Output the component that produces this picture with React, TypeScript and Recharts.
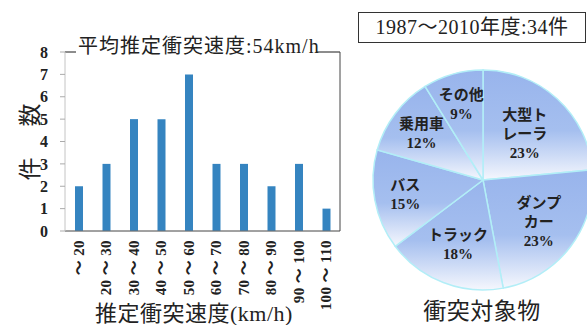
import { BarChart, Bar, XAxis, YAxis, CartesianGrid, ReferenceLine, PieChart, Pie, Cell } from 'recharts'

const FONT = '"Liberation Serif", "Noto Sans CJK JP", serif'

// 推定衝突速度の分布
const speedRanges = ['～ 20', '20 ～ 30', '30 ～ 40', '40 ～ 50', '50 ～ 60', '60 ～ 70', '70 ～ 80', '80 ～ 90', '90 ～ 100', '100 ～ 110']
const counts = [2, 3, 5, 5, 7, 3, 3, 2, 3, 1]
const yTicks = [0, 1, 2, 3, 4, 5, 6, 7, 8]

// 衝突対象物（34件）
const targets = ['大型トレーラ', 'ダンプカー', 'トラック', 'バス', '乗用車', 'その他']
const targetLines = [['大型ト', 'レーラ'], ['ダンプ', 'カー'], ['トラック'], ['バス'], ['乗用車'], ['その他']]
const targetCounts = [8, 8, 6, 5, 4, 3]

const barData = speedRanges.map((range, i) => ({ range, count: counts[i] }))
const pieData = targets.map((name, i) => ({ name, value: targetCounts[i] }))
const total = targetCounts.reduce((a, b) => a + b, 0)

// whole-number shares that add up to 100 (largest remainder)
function roundedShares(values: number[]) {
  const raw = values.map((v) => (v / total) * 100)
  const out = raw.map(Math.floor)
  let left = 100 - out.reduce((a, b) => a + b, 0)
  const order = raw.map((r, i) => [r - Math.floor(r), i]).sort((a, b) => b[0] - a[0])
  for (const [, i] of order) {
    if (left <= 0) break
    out[i] += 1
    left -= 1
  }
  return out
}
const shares = roundedShares(targetCounts)

// label distance from the pie centre, per slice
const labelRadius = [62, 70, 69, 79, 77, 79]
const RAD = Math.PI / 180

function SpeedTick({ x, y, payload }: any) {
  return (
    <g transform={`translate(${x},${y + 7})`}>
      <text
        transform="rotate(-90)"
        textAnchor="end"
        dominantBaseline="central"
        fontFamily={FONT}
        fontWeight="bold"
        fontSize={15}
        letterSpacing={0.4}
        fill="#222"
      >
        {payload.value}
      </text>
    </g>
  )
}

function SliceLabel({ cx, cy, midAngle, index }: any) {
  const r = labelRadius[index]
  const x = cx + r * Math.cos(-midAngle * RAD)
  const y = cy + r * Math.sin(-midAngle * RAD)
  const lines = [...targetLines[index], `${shares[index]}%`]
  const lh = 19
  const top = y - ((lines.length - 1) * lh) / 2
  return (
    <text textAnchor="middle" dominantBaseline="central" fontFamily={FONT} fontWeight="bold" fontSize={15} fill="#222">
      {lines.map((line, i) => (
        <tspan key={i} x={x} y={top + i * lh}>
          {line}
        </tspan>
      ))}
    </text>
  )
}

export default function App() {
  return (
    <div style={{ position: 'absolute', left: 0, top: 0, width: 587, height: 325, background: '#fff', overflow: 'hidden' }}>
      <div style={{ position: 'absolute', left: 0, top: 0 }}>
        <BarChart width={345} height={325} data={barData} margin={{ top: 52, right: 0, left: 0, bottom: 0 }}>
          <CartesianGrid vertical={false} stroke="#ababab" />
          <XAxis
            dataKey="range"
            interval={0}
            height={94}
            tickLine={false}
            tickSize={0}
            axisLine={{ stroke: '#6f6f6f' }}
            tick={<SpeedTick />}
          />
          <YAxis
            yAxisId="left"
            domain={[0, 8]}
            ticks={yTicks}
            interval={0}
            width={65}
            tickSize={5}
            tickMargin={12}
            tickLine={{ stroke: '#ababab' }}
            axisLine={{ stroke: '#c4c4c4' }}
            tick={{ fontFamily: FONT, fontWeight: 'bold', fontSize: 16, fill: '#222' }}
          />
          <YAxis yAxisId="right" orientation="right" width={5} tick={false} tickLine={false} axisLine={{ stroke: '#444' }} />
          <ReferenceLine yAxisId="left" y={8} stroke="#444" />
          <Bar yAxisId="left" dataKey="count" fill="#3584c0" barSize={8} isAnimationActive={false} />
        </BarChart>
      </div>

      <div style={{ position: 'absolute', left: 350, top: 0 }}>
        <PieChart width={237} height={325}>
          <defs>
            <linearGradient id="sliceFill" x1="0" y1="0" x2="0" y2="1">
              <stop offset="0%" stopColor="#98b4ec" />
              <stop offset="55%" stopColor="#a5bfef" />
              <stop offset="100%" stopColor="#f5f7fd" />
            </linearGradient>
          </defs>
          <Pie
            data={pieData}
            dataKey="value"
            cx={128}
            cy={175}
            outerRadius={110}
            startAngle={90}
            endAngle={-270}
            stroke="#b2eef7"
            strokeWidth={1.5}
            labelLine={false}
            label={SliceLabel}
            isAnimationActive={false}
          >
            {pieData.map((d) => (
              <Cell key={d.name} fill="url(#sliceFill)" />
            ))}
          </Pie>
        </PieChart>
      </div>

      <div
        style={{
          position: 'absolute',
          left: 358,
          top: 12,
          width: 226,
          height: 29,
          border: '1.5px solid #333',
          fontFamily: FONT,
          fontSize: 20,
          letterSpacing: 0.5,
          color: '#222',
          textAlign: 'center',
          lineHeight: '29px',
        }}
      >
        1987～2010年度:34件
      </div>

      <svg width={587} height={325} style={{ position: 'absolute', left: 0, top: 0, pointerEvents: 'none' }}>
        <rect x={76} y={36} width={241} height={20} fill="#fff" />
        <text x={78} y={46} dominantBaseline="central" fontFamily={FONT} fontSize={20} letterSpacing={1} fill="#222">
          平均推定衝突速度:54km/h
        </text>
        <text
          transform="translate(30,140) rotate(-90)"
          textAnchor="middle"
          dominantBaseline="central"
          fontFamily={FONT}
          fontSize={23}
          letterSpacing={4}
          fill="#222"
        >
          件　数
        </text>
        <text x={194} y={313} textAnchor="middle" dominantBaseline="central" fontFamily={FONT} fontSize={22} letterSpacing={0.5} fill="#222">
          推定衝突速度(km/h)
        </text>
        <text x={482} y={311} textAnchor="middle" dominantBaseline="central" fontFamily={FONT} fontSize={23} letterSpacing={0.5} fill="#222">
          衝突対象物
        </text>
      </svg>
    </div>
  )
}
